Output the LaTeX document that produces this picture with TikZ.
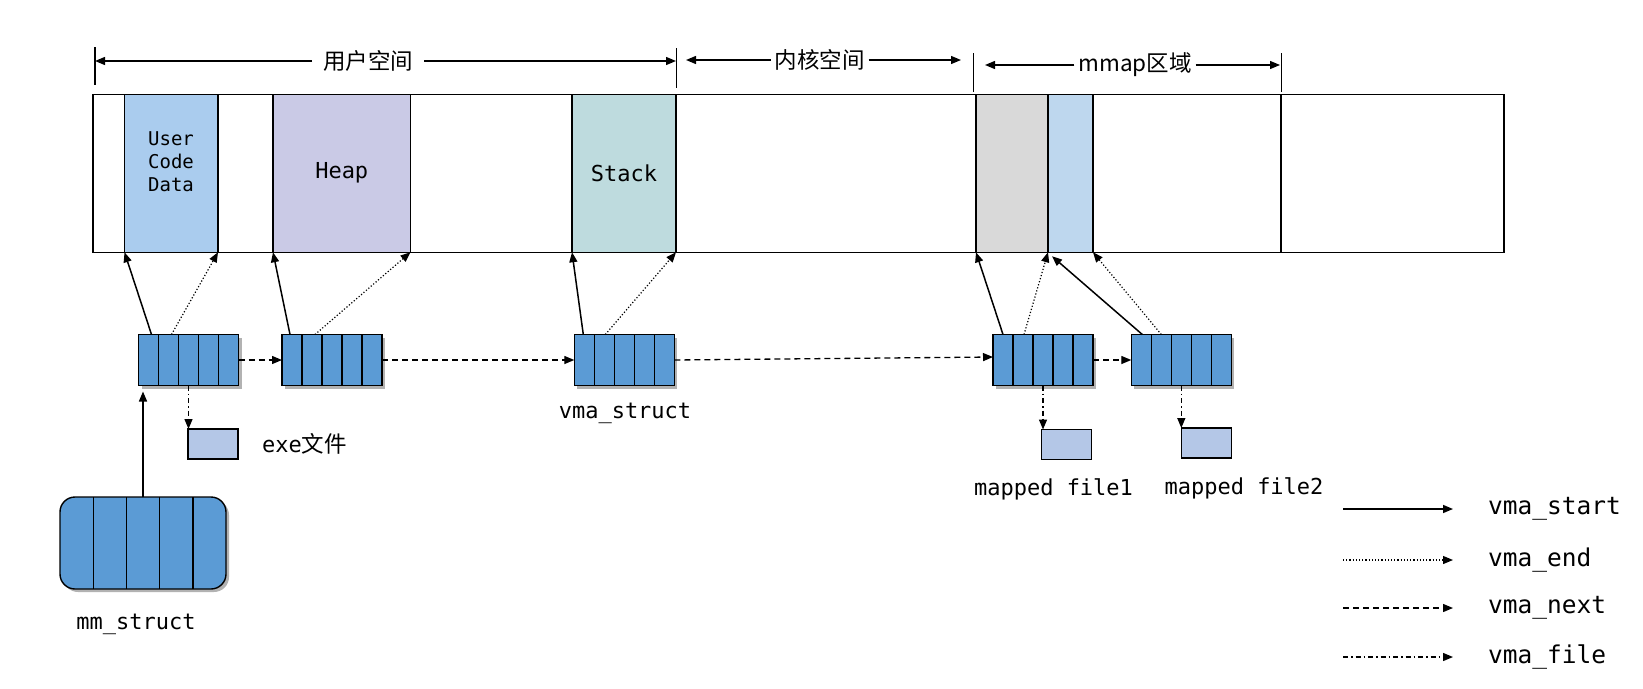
\documentclass[tikz,border=0pt]{standalone}
\usepackage{fontspec}
\setmonofont{DejaVu Sans Mono}
\newfontfamily\cjk{Noto Sans CJK SC}
\usepackage{tikz}
\usetikzlibrary{arrows.meta,shadows}

\definecolor{codeblue}{RGB}{170,204,238}
\definecolor{heappurple}{RGB}{202,202,230}
\definecolor{stackteal}{RGB}{190,219,222}
\definecolor{mmapgray}{RGB}{217,217,217}
\definecolor{mmapblue}{RGB}{190,215,238}
\definecolor{vmablue}{RGB}{91,155,213}
\definecolor{fileblue}{RGB}{180,199,231}

\begin{document}
\begin{tikzpicture}[
  x=1pt, y=-1pt,
  font=\ttfamily\fontsize{22}{26}\selectfont,
  >={Triangle[length=10pt,width=8pt]},
  region/.style={draw=black, line width=1.5pt, minimum height=158pt, inner sep=0pt, outer sep=0pt},
  vmanode/.style={draw=black, line width=1.4pt, fill=vmablue, minimum width=100pt, minimum height=51pt, inner sep=0pt, outer sep=0pt,
    drop shadow={shadow xshift=3pt, shadow yshift=-3pt, opacity=0.3, fill=black}},
  mmnode/.style={vmanode, minimum width=166pt, minimum height=92pt, rounded corners=15pt},
  filenode/.style={draw=black, line width=1.3pt, fill=fileblue, minimum width=50pt, minimum height=30pt, inner sep=0pt, outer sep=0pt},
  spanlabel/.style={font=\cjk\fontsize{22.5}{26}\selectfont, inner sep=0pt, outer sep=4pt},
  legtext/.style={font=\ttfamily\fontsize{24.5}{28}\selectfont, anchor=west, inner sep=0pt},
  spanmap/.style={->, line width=1.3pt},
  startmap/.style={->, line width=1.5pt},
  endmap/.style={->, line width=1.2pt, dotted},
  nextmap/.style={->, line width=1.3pt, dash pattern=on 6pt off 4pt},
  filemap/.style={->, line width=1.3pt, dash pattern=on 5pt off 3pt on 1.5pt off 3pt}
]
  \useasboundingbox (0,0) rectangle (1643,688);

  % address space
  \node[region, minimum width=1411pt] (vspace) at (798.5,173.25) {};
  \node[region, fill=codeblue, minimum width=93.5pt] (ucode) at (171.25,173.25) {};
  \node[font=\ttfamily\fontsize{19}{23}\selectfont, align=center] (ucodetxt) at (171,162) {User\\Code\\Data};
  \node[region, fill=heappurple, minimum width=137.5pt] (heap) at (341.75,173.25) {Heap};
  \node[region, fill=stackteal, minimum width=104pt] (stack) at (624,173.25) {Stack};
  \node[region, fill=mmapgray, minimum width=72pt] (mgray) at (1012,173.25) {};
  \node[region, fill=mmapblue, minimum width=45pt] (mblue) at (1070.5,173.25) {};
  \draw[line width=1.5pt] (1281,94) -- (1281,252.5);

  % spans on top
  \draw[line width=1.3pt] (95,47) -- (95,85);
  \draw[line width=1.3pt] (676.5,48) -- (676.5,88);
  \draw[line width=1.3pt] (973.5,53) -- (973.5,92);
  \draw[line width=1.3pt] (1281.5,53) -- (1281.5,92);
  \node[spanlabel, outer sep=11pt] (lbluser) at (368,61) {用户空间};
  \node[spanlabel] (lblkernel) at (819.5,60) {内核空间};
  \node[spanlabel] (lblmmap) at (1135,65) {mmap区域};
  \coordinate (uleft) at (95,61);
  \coordinate (uright) at (676,61);
  \coordinate (kleft) at (686,60);
  \coordinate (kright) at (961,60);
  \coordinate (mleft) at (985,65);
  \coordinate (mright) at (1280,65);
  \draw[spanmap] (lbluser) -- (uleft);
  \draw[spanmap] (lbluser) -- (uright);
  \draw[spanmap] (lblkernel) -- (kleft);
  \draw[spanmap] (lblkernel) -- (kright);
  \draw[spanmap] (lblmmap) -- (mleft);
  \draw[spanmap] (lblmmap) -- (mright);

  % vma list
  \node[vmanode] (vma1) at (188.5,360) {};
  \node[vmanode] (vma2) at (332,360) {};
  \node[vmanode] (vma3) at (624.3,360) {};
  \node[vmanode] (vma4) at (1043,360) {};
  \node[vmanode] (vma5) at (1181.3,360) {};
  \foreach \v in {vma1,vma2,vma3,vma4,vma5}
    \foreach \i in {1,...,4}
      \draw[line width=1.4pt] ([xshift=\i*20pt]\v.north west) -- ([xshift=\i*20pt]\v.south west);
  \node (vma3lbl) at (625,413) {vma\_struct};

  \node[mmnode] (mm) at (143,543) {};
  \foreach \i in {1,...,4}
    \draw[line width=1.4pt] ([xshift=\i*33.2pt]mm.north west) -- ([xshift=\i*33.2pt]mm.south west);
  \node (mmlbl) at (136,624) {mm\_struct};

  \node[filenode] (exefile) at (213,444) {};
  \node[filenode] (mfile1) at (1066.7,444.5) {};
  \node[filenode] (mfile2) at (1206.2,443) {};
  \node[anchor=west, inner sep=0pt] (exelbl) at (262,444) {exe{\cjk\fontsize{22.5}{26}\selectfont 文件}};
  \node (mf1lbl) at (1053.5,489) {mapped file1};
  \node (mf2lbl) at (1244,488) {mapped file2};

  % pointers
  \draw[startmap] ([xshift=13pt]vma1.north west) -- (ucode.south west);
  \draw[endmap] ([xshift=33pt]vma1.north west) -- (ucode.south east);
  \draw[startmap] ([xshift=8pt]vma2.north west) -- (heap.south west);
  \draw[endmap] ([xshift=33pt]vma2.north west) -- (heap.south east);
  \draw[startmap] ([xshift=9pt]vma3.north west) -- (stack.south west);
  \draw[endmap] ([xshift=31pt]vma3.north west) -- (stack.south east);
  \draw[startmap] ([xshift=10pt]vma4.north west) -- (mgray.south west);
  \draw[endmap] ([xshift=31pt]vma4.north west) -- (mgray.south east);
  \draw[startmap] ([xshift=11pt]vma5.north west) -- ([xshift=4pt,yshift=-4pt]mblue.south west);
  \draw[endmap] ([xshift=30pt]vma5.north west) -- (mblue.south east);

  \draw[nextmap] (vma1.east) -- (vma2.west);
  \draw[nextmap] (vma2.east) -- (vma3.west);
  \draw[nextmap] (vma3.east) -- ([yshift=3pt]vma4.west);
  \draw[nextmap] (vma4.east) -- (vma5.west);

  \draw[filemap] (vma1.south) -- (vma1.south |- exefile.north);
  \draw[filemap] (vma4.south) -- (vma4.south |- mfile1.north);
  \draw[filemap] (vma5.south) -- (vma5.south |- mfile2.north);

  \draw[startmap, shorten >=6pt] (mm.north) -- (mm.north |- vma1.south);

  % legend
  \node[legtext] (legstart) at (1488,509) {vma\_start};
  \node[legtext] (legend) at (1488,560) {vma\_end};
  \node[legtext] (legnext) at (1488,608) {vma\_next};
  \node[legtext] (legfile) at (1488,657) {vma\_file};
  \coordinate (kstart) at (1343,509);
  \coordinate (kend) at (1343,560);
  \coordinate (knext) at (1343,608);
  \coordinate (kfile) at (1343,657);
  \draw[startmap] (kstart) -- ([xshift=-35pt]legstart.west);
  \draw[endmap] (kend) -- ([xshift=-35pt]legend.west);
  \draw[nextmap] (knext) -- ([xshift=-35pt]legnext.west);
  \draw[filemap] (kfile) -- ([xshift=-35pt]legfile.west);
\end{tikzpicture}
\end{document}
